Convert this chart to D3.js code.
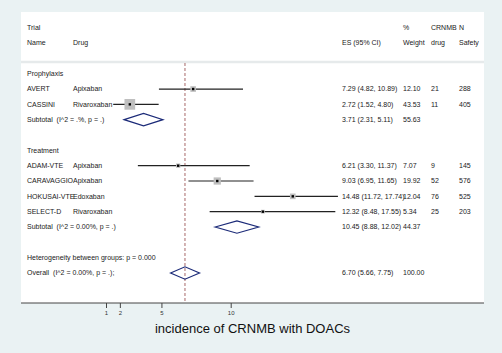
<!DOCTYPE html>
<html>
<head>
<meta charset="utf-8">
<script src="https://cdn.jsdelivr.net/npm/d3@7"></script>
<style>
  body { margin: 0; background: #eaf2f3; }
  svg { display: block; font-family: "Liberation Sans", Arial, sans-serif; }
  text { white-space: pre; }
</style>
</head>
<body>
<script>
// studies
var trials   = ["AVERT", "CASSINI", "ADAM-VTE", "CARAVAGGIO", "HOKUSAI-VTE", "SELECT-D"];
var drugs    = ["Apixaban", "Rivaroxaban", "Apixaban", "Apixaban", "Edoxaban", "Rivaroxaban"];
var groups   = ["Prophylaxis", "Prophylaxis", "Treatment", "Treatment", "Treatment", "Treatment"];
var es       = [7.29, 2.72, 6.21, 9.03, 14.48, 12.32];
var lo       = [4.82, 1.52, 3.30, 6.95, 11.72, 8.48];
var hi       = [10.89, 4.80, 11.37, 11.65, 17.74, 17.55];
var weight   = [12.10, 43.53, 7.07, 19.92, 12.04, 5.34];
var crnmb    = [21, 11, 9, 52, 76, 25];
var nSafety  = [288, 405, 145, 576, 525, 203];

// pooled
var subLabels = ["Subtotal  (I^2 = .%, p = .)", "Subtotal  (I^2 = 0.00%, p = .)"];
var subEs     = [3.71, 10.45];
var subLo     = [2.31, 8.88];
var subHi     = [5.11, 12.02];
var subWeight = [55.63, 44.37];
var overall   = {label: "Overall  (I^2 = 0.00%, p = .);", es: 6.70, lo: 5.66, hi: 7.75, weight: 100.00};
var hetLabel  = "Heterogeneity between groups: p = 0.000";

var xTicks = [1, 2, 5, 10];
var xTitle = "incidence of CRNMB with DOACs";

var W = 502, H = 353;
var svg = d3.select("body").append("svg").attr("width", W).attr("height", H);

svg.append("rect").attr("width", W).attr("height", H).attr("fill", "#eaf2f3");
svg.append("rect").attr("x", 21).attr("y", 12).attr("width", 463).attr("height", 291).attr("fill", "#fff");

var x = d3.scaleLinear().domain([1, 10]).range([106, 230.7]);
var y = d3.scaleLinear().domain([0, 16]).range([27.7, 273]);
var size = d3.scaleSqrt().domain([0, 43.53]).range([0, 10.7]);

var col = {name: 27, drug: 73, es: 342, w: 403, c: 431, n: 459};
var fmt = d3.format(".2f");
function ciText(e, l, h) { return fmt(e) + " (" + fmt(l) + ", " + fmt(h) + ")"; }

// build rows
var rows = [];
rows.push({i: 0, cells: [["Trial", col.name], ["%", col.w], ["CRNMB", col.c], ["N", col.n]]});
rows.push({i: 1, cells: [["Name", col.name], ["Drug", col.drug], ["ES (95% CI)", col.es], ["Weight", col.w], ["drug", col.c], ["Safety", col.n]]});
var studyRows = [], diamonds = [];
var r = 3;
["Prophylaxis", "Treatment"].forEach(function(g, gi) {
  rows.push({i: r++, cells: [[g, col.name]]});
  trials.forEach(function(t, k) {
    if (groups[k] !== g) return;
    rows.push({i: r, cells: [[t, col.name], [drugs[k], col.drug], [ciText(es[k], lo[k], hi[k]), col.es],
      [fmt(weight[k]), col.w], [String(crnmb[k]), col.c], [String(nSafety[k]), col.n]]});
    studyRows.push({i: r, k: k});
    r++;
  });
  rows.push({i: r, cells: [[subLabels[gi], col.name], [ciText(subEs[gi], subLo[gi], subHi[gi]), col.es], [fmt(subWeight[gi]), col.w]]});
  diamonds.push({i: r, es: subEs[gi], lo: subLo[gi], hi: subHi[gi]});
  r += 2;
});
rows.push({i: r++, cells: [[hetLabel, col.name]]});
rows.push({i: r, cells: [[overall.label, col.name], [ciText(overall.es, overall.lo, overall.hi), col.es], [fmt(overall.weight), col.w]]});
diamonds.push({i: r, es: overall.es, lo: overall.lo, hi: overall.hi});

// separator under header
svg.append("line").attr("x1", 21).attr("x2", 484).attr("y1", 62).attr("y2", 62)
  .attr("stroke", "#e6eaeb").attr("stroke-width", 2.5);

// reference line at overall
svg.append("line").attr("x1", x(overall.es)).attr("x2", x(overall.es)).attr("y1", 63).attr("y2", 303)
  .attr("stroke", "#8f4040").attr("stroke-width", 0.8).attr("stroke-dasharray", "3,2");

// text
rows.forEach(function(row) {
  row.cells.forEach(function(c) {
    svg.append("text").attr("x", c[1]).attr("y", y(row.i)).attr("dy", "0.35em")
      .attr("font-size", 7).attr("fill", "#1a1a1a").text(c[0]);
  });
});

// CIs, boxes
var g = svg.append("g");
g.selectAll("line.ci").data(studyRows).join("line").attr("class", "ci")
  .attr("x1", function(d) { return x(lo[d.k]); }).attr("x2", function(d) { return x(hi[d.k]); })
  .attr("y1", function(d) { return y(d.i); }).attr("y2", function(d) { return y(d.i); })
  .attr("stroke", "#222").attr("stroke-width", 1.2);
g.selectAll("rect.box").data(studyRows).join("rect").attr("class", "box")
  .attr("x", function(d) { return x(es[d.k]) - size(weight[d.k]) / 2; })
  .attr("y", function(d) { return y(d.i) - size(weight[d.k]) / 2; })
  .attr("width", function(d) { return size(weight[d.k]); })
  .attr("height", function(d) { return size(weight[d.k]); })
  .attr("fill", "#bfbfbf");
g.selectAll("rect.dot").data(studyRows).join("rect").attr("class", "dot")
  .attr("x", function(d) { return x(es[d.k]) - 1.2; })
  .attr("y", function(d) { return y(d.i) - 1.2; })
  .attr("width", 2.4).attr("height", 2.4).attr("fill", "#000");

// diamonds
g.selectAll("path.dia").data(diamonds).join("path").attr("class", "dia")
  .attr("d", function(d) {
    var cy = y(d.i), h = 6.2;
    return "M" + x(d.lo) + "," + cy + "L" + x(d.es) + "," + (cy - h) + "L" + x(d.hi) + "," + cy +
      "L" + x(d.es) + "," + (cy + h) + "Z";
  })
  .attr("fill", "none").attr("stroke", "#1b2a78").attr("stroke-width", 1.2);

// axis
svg.append("line").attr("x1", 21).attr("x2", 484).attr("y1", 303).attr("y2", 303)
  .attr("stroke", "#444").attr("stroke-width", 1);
var ax = svg.append("g").attr("transform", "translate(0,303)")
  .call(d3.axisBottom(x).tickValues(xTicks).tickSize(5).tickPadding(3).tickFormat(d3.format("d")));
ax.select(".domain").remove();
ax.selectAll("line").attr("stroke", "#444");
ax.selectAll("text").attr("font-size", 6).attr("fill", "#333").attr("font-family", "Liberation Sans, Arial, sans-serif");

svg.append("text").attr("x", 252.5).attr("y", 333).attr("text-anchor", "middle")
  .attr("font-size", 13).attr("fill", "#111").text(xTitle);
</script>
</body>
</html>
